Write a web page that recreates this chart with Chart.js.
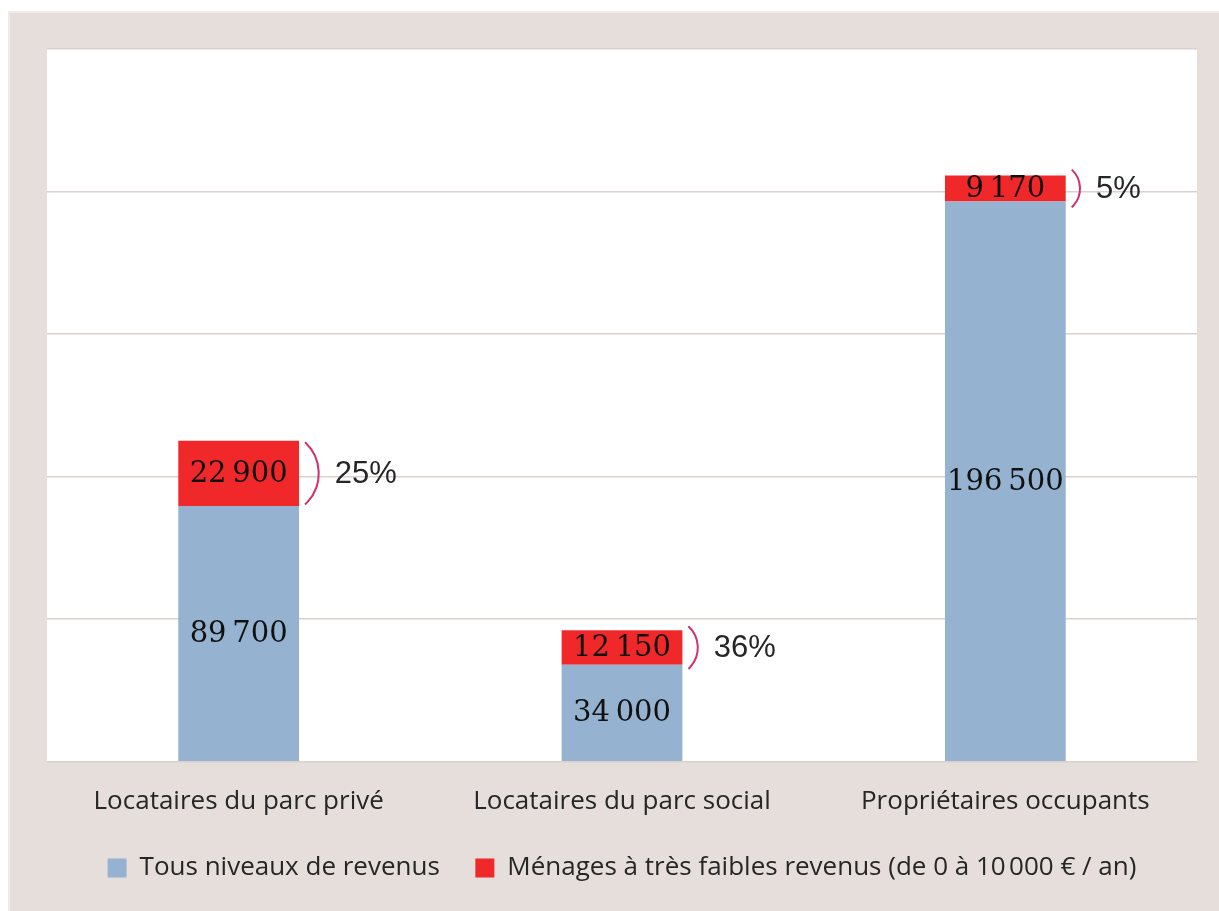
<!DOCTYPE html>
<html lang="fr">
<head>
    <meta charset="UTF-8">
    <title>Ménages par statut d'occupation</title>
    <script src="https://cdn.jsdelivr.net/npm/chart.js"></script>
    <style>
        html, body { margin: 0; padding: 0; background: #ffffff; }
        #wrap { position: relative; width: 1219px; height: 911px; }
    </style>
</head>
<body>
    <div id="wrap"><canvas id="chart" width="1219" height="911"></canvas></div>

    <script>
        // données
        const categories = ['Locataires du parc privé', 'Locataires du parc social', 'Propriétaires occupants'];
        const tousRevenus = [89700, 34000, 196500];
        const faiblesRevenus = [22900, 12150, 9170];
        const partLabels = ['25%', '36%', '5%'];
        const seriesNames = ['Tous niveaux de revenus', 'Ménages à très faibles revenus (de 0 à 10\u202f000 € / an)'];

        const BLUE = '#95b3d1';
        const RED = '#f0282a';
        const PANEL = '#e5dedb';
        const SANS = '"Open Sans"';

        // format 22 900 avec espace fine
        function fmt(v) {
            return String(v).replace(/\B(?=(\d{3})+(?!\d))/g, '\u202f');
        }

        // fond beige + zone de tracé blanche
        const backgroundPlugin = {
            id: 'background',
            beforeDraw(chart) {
                const { ctx, chartArea: a } = chart;
                ctx.save();
                ctx.fillStyle = '#ffffff';
                ctx.fillRect(0, 0, chart.width, chart.height);
                ctx.fillStyle = '#efebe9';
                ctx.fillRect(8, 11, chart.width - 8, chart.height - 11);
                ctx.fillStyle = PANEL;
                ctx.fillRect(10, 13, chart.width - 10, chart.height - 13);
                ctx.fillStyle = '#ffffff';
                ctx.fillRect(a.left, a.top, a.right - a.left, a.bottom - a.top);
                ctx.restore();
            }
        };

        // valeurs dans les barres + accolades et pourcentages
        const labelsPlugin = {
            id: 'barLabels',
            afterDatasetsDraw(chart) {
                const ctx = chart.ctx;
                ctx.save();
                ctx.font = '29px "DejaVu Serif"';
                ctx.fillStyle = '#111111';
                ctx.textAlign = 'center';
                ctx.textBaseline = 'middle';
                chart.data.datasets.forEach((ds, i) => {
                    chart.getDatasetMeta(i).data.forEach((bar, j) => {
                        ctx.fillText(fmt(ds.data[j]), bar.x, (bar.y + bar.base) / 2 + 1);
                    });
                });

                const meta = chart.getDatasetMeta(1);
                meta.data.forEach((bar, j) => {
                    const h = bar.base - bar.y;
                    const mid = (bar.y + bar.base) / 2;
                    const arcH = Math.max(h - 3, h * 0.6 + 22);
                    const s = arcH * 0.22;
                    const x0 = bar.x + bar.width / 2 + 6;
                    const r = (arcH * arcH / 4 + s * s) / (2 * s);
                    const cx = x0 + s - r;
                    const ang = Math.asin((arcH / 2) / r);
                    ctx.beginPath();
                    ctx.strokeStyle = '#d0306e';
                    ctx.lineWidth = 2;
                    ctx.arc(cx, mid, r, -ang, ang);
                    ctx.stroke();

                    ctx.font = '31px "Liberation Sans"';
                    ctx.fillStyle = '#262626';
                    ctx.textAlign = 'left';
                    ctx.fillText(partLabels[j], x0 + s + 16, mid + 1);
                });
                ctx.restore();
            }
        };

        const chart = new Chart(document.getElementById('chart'), {
            type: 'bar',
            data: {
                labels: categories,
                datasets: [
                    { label: seriesNames[0], data: tousRevenus, backgroundColor: BLUE, barPercentage: 0.63, categoryPercentage: 0.5 },
                    { label: seriesNames[1], data: faiblesRevenus, backgroundColor: RED, barPercentage: 0.63, categoryPercentage: 0.5 }
                ]
            },
            options: {
                responsive: false,
                animation: false,
                layout: { padding: { left: 47, right: 22, top: 49, bottom: 20 } },
                plugins: {
                    tooltip: { enabled: false },
                    legend: {
                        position: 'bottom',
                        labels: {
                            font: { family: SANS, size: 26 },
                            color: '#262626',
                            boxWidth: 19,
                            boxHeight: 19,
                            padding: 22,
                            generateLabels(chart) {
                                const items = Chart.defaults.plugins.legend.labels.generateLabels(chart);
                                // un peu plus d'écart entre les deux entrées
                                items[0].text = items[0].text + '  ';
                                return items;
                            }
                        }
                    }
                },
                scales: {
                    x: {
                        stacked: true,
                        grid: { display: false },
                        border: { display: false },
                        ticks: { font: { family: SANS, size: 26 }, color: '#262626', padding: 16 }
                    },
                    y: {
                        stacked: true,
                        min: 0,
                        max: 250000,
                        ticks: { display: false, stepSize: 50000 },
                        border: { display: false },
                        grid: { color: '#dcd0cc', lineWidth: 1.5, drawTicks: false }
                    }
                }
            },
            plugins: [backgroundPlugin, labelsPlugin]
        });
    </script>
</body>
</html>
